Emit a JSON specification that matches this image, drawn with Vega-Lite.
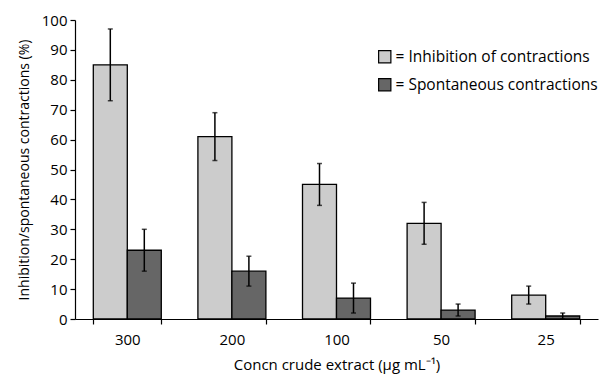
{
  "$schema": "https://vega.github.io/schema/vega-lite/v6.json",
  "width": 523,
  "height": 299,
  "autosize": {"type": "none"},
  "padding": {"left": 75, "top": 20, "right": 3, "bottom": 55},
  "background": "white",
  "config": {
    "view": {"stroke": null},
    "font": "Open Sans",
    "axis": {"labelFont": "Open Sans", "titleFont": "Open Sans", "labelColor": "black", "titleColor": "black", "domainColor": "black", "tickColor": "black", "grid": false, "titleFontWeight": "normal", "labelFontSize": 15, "titleFontSize": 14}
  },
  "data": {
    "values": [
      {"conc": "300", "series": "= Inhibition of contractions", "value": 85, "lo": 73, "hi": 97},
      {"conc": "300", "series": "= Spontaneous contractions", "value": 23, "lo": 16, "hi": 30},
      {"conc": "200", "series": "= Inhibition of contractions", "value": 61, "lo": 53, "hi": 69},
      {"conc": "200", "series": "= Spontaneous contractions", "value": 16, "lo": 11, "hi": 21},
      {"conc": "100", "series": "= Inhibition of contractions", "value": 45, "lo": 38, "hi": 52},
      {"conc": "100", "series": "= Spontaneous contractions", "value": 7, "lo": 2, "hi": 12},
      {"conc": "50", "series": "= Inhibition of contractions", "value": 32, "lo": 25, "hi": 39},
      {"conc": "50", "series": "= Spontaneous contractions", "value": 3, "lo": 1, "hi": 5},
      {"conc": "25", "series": "= Inhibition of contractions", "value": 8, "lo": 5, "hi": 11},
      {"conc": "25", "series": "= Spontaneous contractions", "value": 1, "lo": 0, "hi": 2}
    ]
  },
  "encoding": {
    "x": {
      "field": "conc", "type": "nominal", "sort": ["300", "200", "100", "50", "25"],
      "scale": {"paddingInner": 0.35, "paddingOuter": 0.175},
      "axis": {"title": "Concn crude extract (\u03bcg mL\u207b\u00b9)", "titleFontSize": 15, "labelAngle": 0, "tickBand": "extent", "tickSize": 5, "labelPadding": 8, "titlePadding": 10, "domainWidth": 1.2, "tickWidth": 1.2}
    },
    "xOffset": {"field": "series", "type": "nominal", "scale": {"paddingInner": 0, "paddingOuter": 0}}
  },
  "layer": [
    {
      "mark": {"type": "bar", "stroke": "black", "strokeWidth": 1.3},
      "encoding": {
        "y": {"field": "value", "type": "quantitative", "scale": {"domain": [0, 100], "nice": false},
          "axis": {"title": "Inhibition/spontaneous contractions (%)", "values": [0,10,20,30,40,50,60,70,80,90,100], "labelOverlap": false, "tickSize": 5, "labelPadding": 3, "titlePadding": 10, "domainWidth": 1.2, "tickWidth": 1.2}},
        "fill": {"field": "series", "type": "nominal",
          "scale": {"domain": ["= Inhibition of contractions", "= Spontaneous contractions"], "range": ["#cccccc", "#666666"]},
          "legend": {"title": null, "orient": "none", "legendX": 302, "legendY": 29, "symbolType": "square", "symbolSize": 150, "symbolStrokeColor": "black", "symbolStrokeWidth": 1.2, "labelFontSize": 15.5, "labelFont": "Open Sans", "labelColor": "black", "rowPadding": 10, "labelOffset": 3, "labelLimit": 400}}
      }
    },
    {
      "mark": {"type": "rule", "color": "black", "strokeWidth": 1.5},
      "encoding": {"y": {"field": "lo", "type": "quantitative", "axis": {"title": "Inhibition/spontaneous contractions (%)", "values": [0,10,20,30,40,50,60,70,80,90,100], "labelOverlap": false, "tickSize": 5, "labelPadding": 3, "titlePadding": 10, "domainWidth": 1.2, "tickWidth": 1.2}}, "y2": {"field": "hi"}}
    },
    {
      "mark": {"type": "tick", "color": "black", "size": 5, "thickness": 1.5, "orient": "horizontal"},
      "encoding": {"y": {"field": "lo", "type": "quantitative", "axis": {"title": "Inhibition/spontaneous contractions (%)", "values": [0,10,20,30,40,50,60,70,80,90,100], "labelOverlap": false, "tickSize": 5, "labelPadding": 3, "titlePadding": 10, "domainWidth": 1.2, "tickWidth": 1.2}}}
    },
    {
      "mark": {"type": "tick", "color": "black", "size": 5, "thickness": 1.5, "orient": "horizontal"},
      "encoding": {"y": {"field": "hi", "type": "quantitative", "axis": {"title": "Inhibition/spontaneous contractions (%)", "values": [0,10,20,30,40,50,60,70,80,90,100], "labelOverlap": false, "tickSize": 5, "labelPadding": 3, "titlePadding": 10, "domainWidth": 1.2, "tickWidth": 1.2}}}
    }
  ]
}
